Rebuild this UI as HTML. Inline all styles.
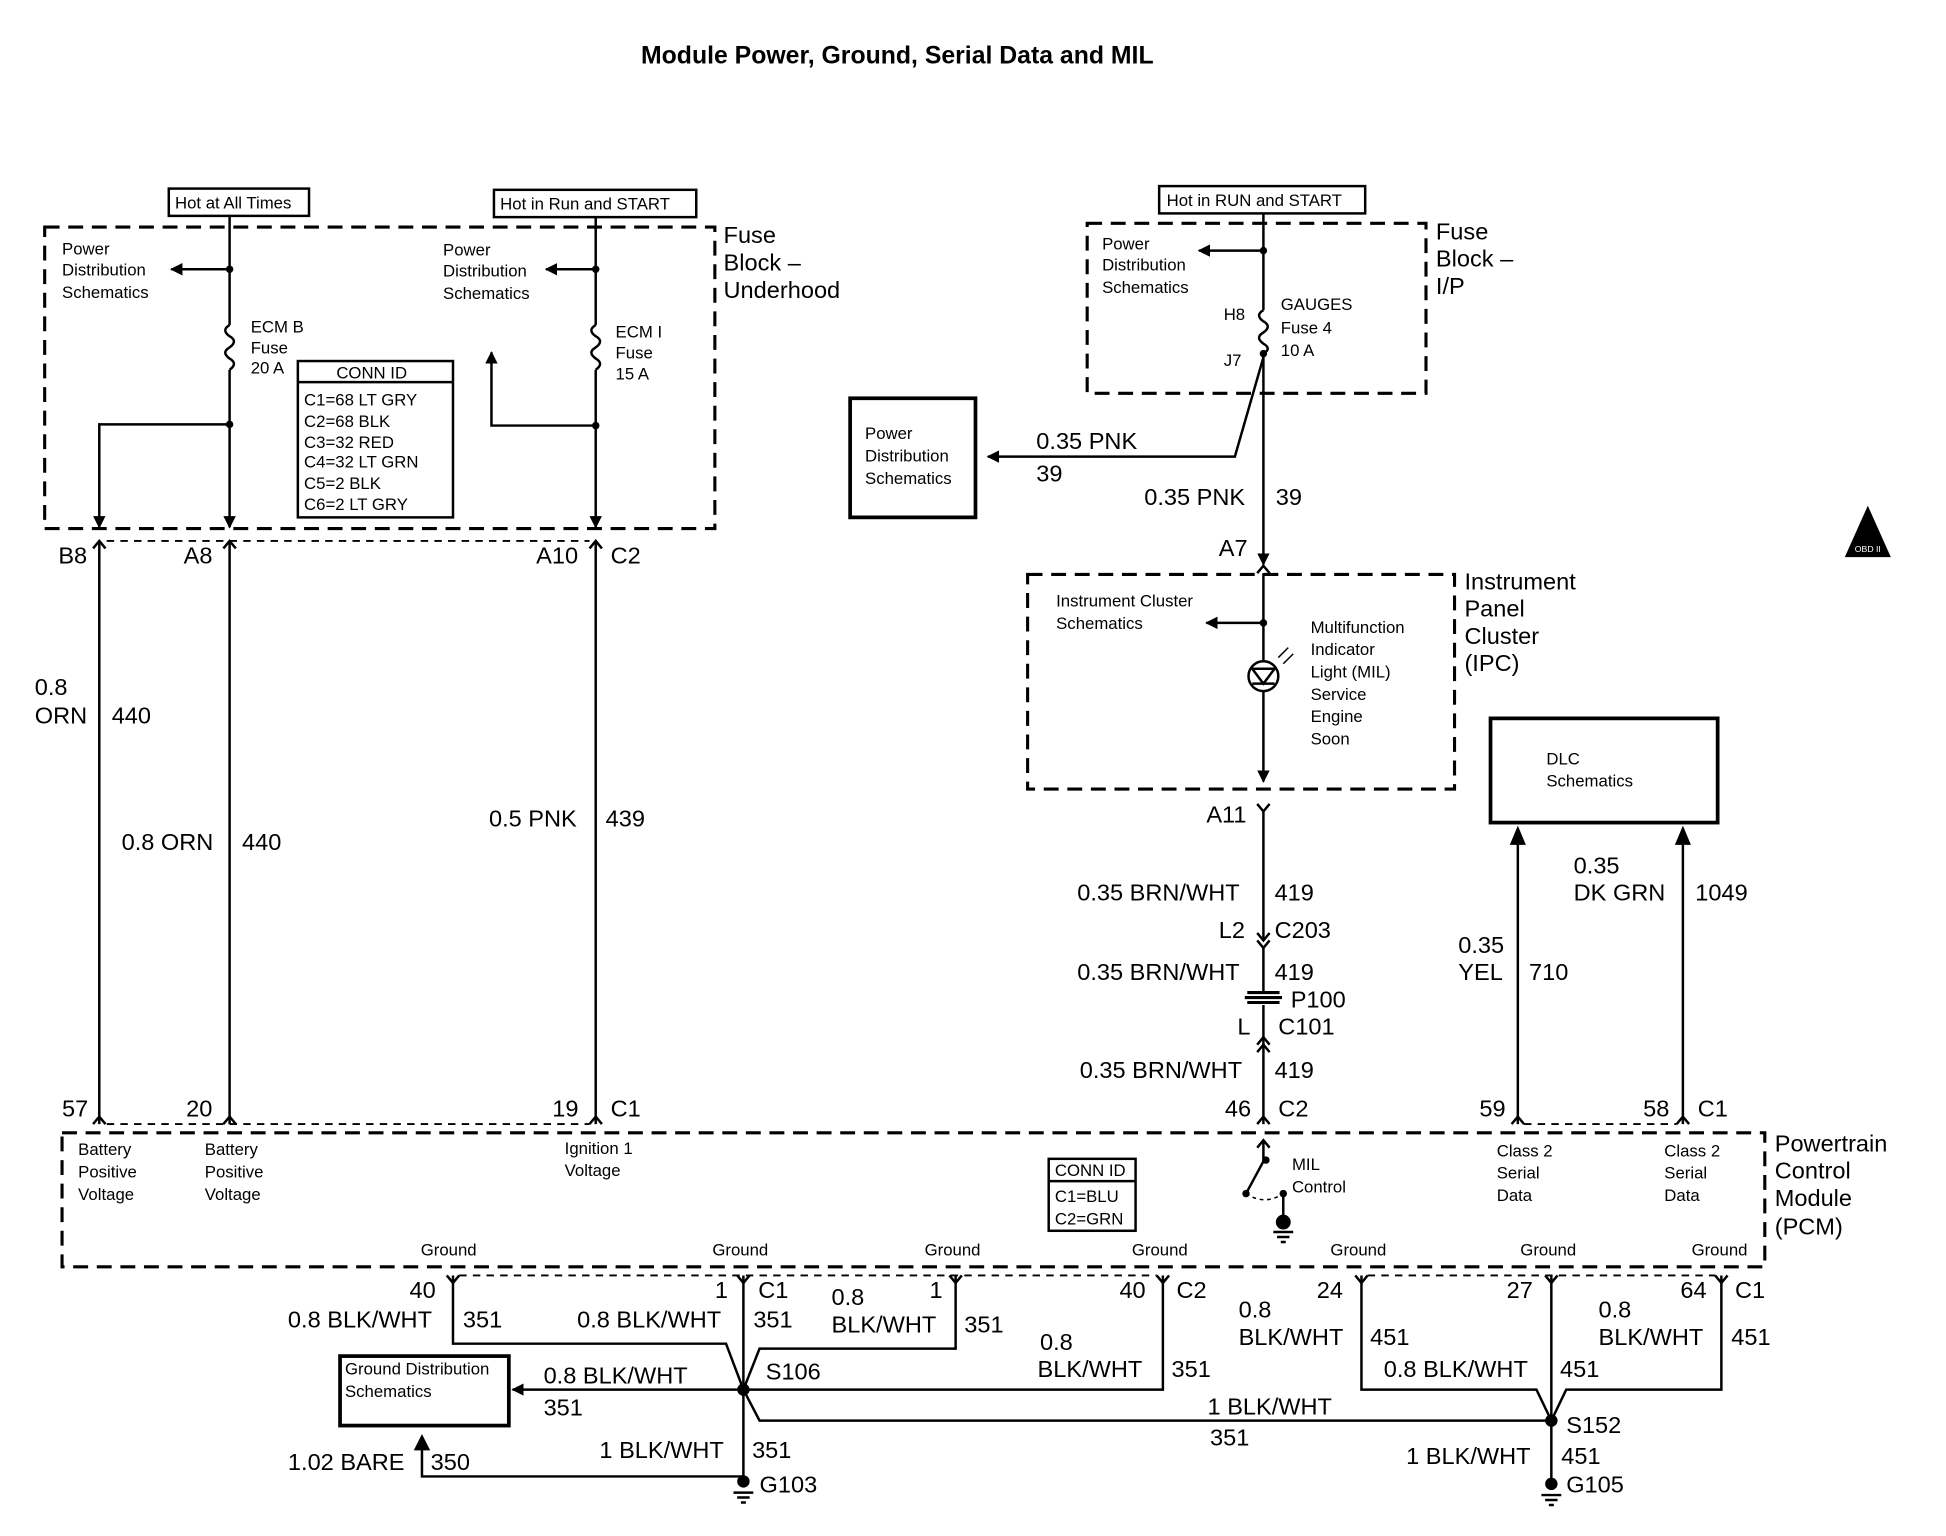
<!DOCTYPE html>
<html><head><meta charset="utf-8"><style>
html,body{margin:0;padding:0;background:#fff;}
svg{display:block;}
text{font-family:"Liberation Sans",Arial,sans-serif;fill:#000;}
.b{font-size:19px;}
.s{font-size:13.5px;}
</style></head><body>
<svg width="1946" height="1536" viewBox="0 0 1568 1238" preserveAspectRatio="none" xmlns="http://www.w3.org/2000/svg">
<defs>
<marker id="ah" markerWidth="10" markerHeight="10" refX="9" refY="5" orient="auto" markerUnits="userSpaceOnUse"><path d="M0,0 L10,5 L0,10 z" fill="#000"/></marker>
</defs>
<g stroke="#000" fill="none" stroke-width="2">
<text x="723" y="51" text-anchor="middle" style="font-size:20px;font-weight:bold" stroke="none">Module Power, Ground, Serial Data and MIL</text>

<!-- left fuse block -->
<rect x="36" y="183" width="540" height="243" stroke-dasharray="12,7" stroke-width="2.5"/>
<rect x="136" y="152" width="113" height="22"/>
<rect x="398" y="153" width="163" height="22"/>
<line x1="185" y1="174" x2="185" y2="262"/>
<path d="M185,262 q-7,4 0,9 q7,4 0,9 q-7,4 0,9 q7,4 0,9"/>
<line x1="185" y1="298" x2="185" y2="425" marker-end="url(#ah)"/>
<line x1="185" y1="217" x2="138" y2="217" marker-end="url(#ah)"/>
<path d="M185,342 H80 V425" marker-end="url(#ah)"/>
<line x1="480" y1="175" x2="480" y2="262"/>
<path d="M480,262 q-7,4 0,9 q7,4 0,9 q-7,4 0,9 q7,4 0,9"/>
<line x1="480" y1="298" x2="480" y2="425" marker-end="url(#ah)"/>
<line x1="480" y1="217" x2="440" y2="217" marker-end="url(#ah)"/>
<path d="M480,343 H396 V284" marker-end="url(#ah)"/>
<rect x="240" y="291" width="125" height="126"/>
<line x1="240" y1="308" x2="365" y2="308"/>
<g fill="#000" stroke="none">
<circle cx="185" cy="217" r="3"/><circle cx="185" cy="342" r="3"/><circle cx="480" cy="217" r="3"/><circle cx="480" cy="343" r="3"/>
</g>
<g stroke="none">
<text x="141" y="168" class="s">Hot at All Times</text>
<text x="403" y="169" class="s">Hot in Run and START</text>
<text x="50" y="205" class="s">Power</text><text x="50" y="222" class="s">Distribution</text><text x="50" y="240" class="s">Schematics</text>
<text x="357" y="206" class="s">Power</text><text x="357" y="223" class="s">Distribution</text><text x="357" y="241" class="s">Schematics</text>
<text x="202" y="268" class="s">ECM B</text><text x="202" y="285" class="s">Fuse</text><text x="202" y="301" class="s">20 A</text>
<text x="496" y="272" class="s">ECM I</text><text x="496" y="289" class="s">Fuse</text><text x="496" y="306" class="s">15 A</text>
<text x="271" y="305" class="s">CONN ID</text>
<text x="245" y="327" class="s">C1=68 LT GRY</text><text x="245" y="344" class="s">C2=68 BLK</text><text x="245" y="361" class="s">C3=32 RED</text>
<text x="245" y="377" class="s">C4=32 LT GRN</text><text x="245" y="394" class="s">C5=2 BLK</text><text x="245" y="411" class="s">C6=2 LT GRY</text>
<text x="583" y="196" class="b">Fuse</text><text x="583" y="218" class="b">Block –</text><text x="583" y="240" class="b">Underhood</text>
<text x="47" y="454" class="b">B8</text><text x="148" y="454" class="b">A8</text><text x="432" y="454" class="b">A10</text><text x="492" y="454" class="b">C2</text>
<text x="28" y="560" class="b">0.8</text><text x="28" y="583" class="b">ORN</text><text x="90" y="583" class="b">440</text>
<text x="98" y="685" class="b">0.8 ORN</text><text x="195" y="685" class="b">440</text>
<text x="394" y="666" class="b">0.5 PNK</text><text x="488" y="666" class="b">439</text>
<text x="50" y="900" class="b">57</text><text x="150" y="900" class="b">20</text><text x="445" y="900" class="b">19</text><text x="492" y="900" class="b">C1</text>
</g>
<line x1="86" y1="436" x2="475" y2="436" stroke-dasharray="6,5" stroke-width="1.5"/>
<path d="M75,442 l5,-6 l5,6 M180,442 l5,-6 l5,6 M475,442 l5,-6 l5,6"/>
<line x1="80" y1="436" x2="80" y2="906"/><line x1="185" y1="436" x2="185" y2="906"/><line x1="480" y1="436" x2="480" y2="906"/>
<path d="M75,906 l5,-6 l5,6 M180,906 l5,-6 l5,6 M475,906 l5,-6 l5,6"/>
<line x1="86" y1="906" x2="475" y2="906" stroke-dasharray="6,5" stroke-width="1.5"/>

<!-- right fuse block -->
<rect x="934" y="150" width="166" height="22"/>
<rect x="876" y="180" width="273" height="137" stroke-dasharray="12,7" stroke-width="2.5"/>
<line x1="1018" y1="172" x2="1018" y2="250"/>
<path d="M1018,250 q-7,4 0,9 q7,4 0,9 q-7,4 0,9 q7,4 0,8"/>
<line x1="1018" y1="285" x2="1018" y2="455" marker-end="url(#ah)"/>
<line x1="1018" y1="202" x2="966" y2="202" marker-end="url(#ah)"/>
<path d="M1018,288 L995,368 H796" marker-end="url(#ah)"/>
<rect x="685" y="321" width="101" height="96" stroke-width="3"/>
<rect x="828" y="463" width="344" height="173" stroke-dasharray="12,7" stroke-width="2.5"/>
<path d="M1013,462 l5,-6 l5,6"/>
<line x1="1018" y1="462" x2="1018" y2="533"/>
<line x1="1018" y1="502" x2="972" y2="502" marker-end="url(#ah)"/>
<circle cx="1018" cy="545" r="12"/>
<path d="M1009,539 h18 l-9,12 z M1009,551 h18"/>
<path d="M1030,530 l8,-8 M1034,535 l8,-8" stroke-width="1.2"/>
<line x1="1018" y1="557" x2="1018" y2="630" marker-end="url(#ah)"/>
<path d="M1013,648 l5,6 l5,-6"/>
<line x1="1018" y1="654" x2="1018" y2="758"/>
<path d="M1013,752 l5,6 l5,-6 M1013,758 l5,6 l5,-6"/>
<line x1="1018" y1="764" x2="1018" y2="800"/>
<path d="M1005,800 h26 M1005,808 h26 M1003,804 h30" stroke-width="2.5"/>
<line x1="1018" y1="810" x2="1018" y2="842"/>
<path d="M1013,842 l5,-6 l5,6 M1013,848 l5,-6 l5,6"/>
<line x1="1018" y1="842" x2="1018" y2="906"/>
<path d="M1013,906 l5,-6 l5,6"/>
<g fill="#000" stroke="none"><circle cx="1018" cy="202" r="3"/><circle cx="1018" cy="285" r="3"/><circle cx="1018" cy="502" r="3"/></g>
<rect x="1201" y="579" width="183" height="84" stroke-width="3"/>
<line x1="1223" y1="668" x2="1223" y2="906"/><line x1="1356" y1="668" x2="1356" y2="906"/>
<path d="M1218,680 l5,-12 l5,12 z M1351,680 l5,-12 l5,12 z" fill="#000"/>
<path d="M1218,906 l5,-6 l5,6 M1351,906 l5,-6 l5,6"/>
<line x1="1228" y1="906" x2="1351" y2="906" stroke-dasharray="6,5" stroke-width="1.5"/>
<path d="M1488,448 L1505,410 L1522,448 z" fill="#000"/>
<g stroke="none">
<text x="940" y="166" class="s">Hot in RUN and START</text>
<text x="888" y="201" class="s">Power</text><text x="888" y="218" class="s">Distribution</text><text x="888" y="236" class="s">Schematics</text>
<text x="986" y="258" class="s">H8</text><text x="986" y="295" class="s">J7</text>
<text x="1032" y="250" class="s">GAUGES</text><text x="1032" y="269" class="s">Fuse 4</text><text x="1032" y="287" class="s">10 A</text>
<text x="1157" y="193" class="b">Fuse</text><text x="1157" y="215" class="b">Block –</text><text x="1157" y="237" class="b">I/P</text>
<text x="697" y="354" class="s">Power</text><text x="697" y="372" class="s">Distribution</text><text x="697" y="390" class="s">Schematics</text>
<text x="835" y="362" class="b">0.35 PNK</text><text x="835" y="388" class="b">39</text>
<text x="922" y="407" class="b">0.35 PNK</text><text x="1028" y="407" class="b">39</text>
<text x="982" y="448" class="b">A7</text>
<text x="1180" y="475" class="b">Instrument</text><text x="1180" y="497" class="b">Panel</text><text x="1180" y="519" class="b">Cluster</text><text x="1180" y="541" class="b">(IPC)</text>
<text x="851" y="489" class="s">Instrument Cluster</text><text x="851" y="507" class="s">Schematics</text>
<text x="1056" y="510" class="s">Multifunction</text><text x="1056" y="528" class="s">Indicator</text><text x="1056" y="546" class="s">Light (MIL)</text><text x="1056" y="564" class="s">Service</text><text x="1056" y="582" class="s">Engine</text><text x="1056" y="600" class="s">Soon</text>
<text x="972" y="663" class="b">A11</text>
<text x="868" y="726" class="b">0.35 BRN/WHT</text><text x="1027" y="726" class="b">419</text>
<text x="982" y="756" class="b">L2</text><text x="1027" y="756" class="b">C203</text>
<text x="868" y="790" class="b">0.35 BRN/WHT</text><text x="1027" y="790" class="b">419</text>
<text x="1040" y="812" class="b">P100</text>
<text x="997" y="834" class="b">L</text><text x="1030" y="834" class="b">C101</text>
<text x="870" y="869" class="b">0.35 BRN/WHT</text><text x="1027" y="869" class="b">419</text>
<text x="987" y="900" class="b">46</text><text x="1030" y="900" class="b">C2</text>
<text x="1246" y="616" class="s">DLC</text><text x="1246" y="634" class="s">Schematics</text>
<text x="1175" y="768" class="b">0.35</text><text x="1175" y="790" class="b">YEL</text><text x="1232" y="790" class="b">710</text>
<text x="1268" y="704" class="b">0.35</text><text x="1268" y="726" class="b">DK GRN</text><text x="1366" y="726" class="b">1049</text>
<text x="1192" y="900" class="b">59</text><text x="1324" y="900" class="b">58</text><text x="1368" y="900" class="b">C1</text>
<text x="1505" y="445" text-anchor="middle" style="font-size:7px;fill:#fff">OBD II</text>
</g>

<!-- PCM -->
<rect x="50" y="913" width="1372" height="108" stroke-dasharray="12,7" stroke-width="2.5"/>
<rect x="845" y="934" width="70" height="58"/>
<line x1="845" y1="952" x2="915" y2="952"/>
<path d="M1013,925 l5,-6 l5,6"/>
<path d="M1018,919 V936 L1004,962"/>
<path d="M1004,962 q15,10 30,0" stroke-dasharray="3,3" stroke-width="1.2"/>
<line x1="1034" y1="962" x2="1034" y2="985"/>
<path d="M1026,993 h16 M1029,997 h10 M1032,1001 h4"/>
<g fill="#000" stroke="none"><circle cx="1020" cy="935" r="3"/><circle cx="1004" cy="962" r="3"/><circle cx="1034" cy="962" r="3"/><circle cx="1034" cy="985" r="6"/></g>
<g stroke="none">
<text x="1430" y="928" class="b">Powertrain</text><text x="1430" y="950" class="b">Control</text><text x="1430" y="972" class="b">Module</text><text x="1430" y="995" class="b">(PCM)</text>
<text x="63" y="931" class="s">Battery</text><text x="63" y="949" class="s">Positive</text><text x="63" y="967" class="s">Voltage</text>
<text x="165" y="931" class="s">Battery</text><text x="165" y="949" class="s">Positive</text><text x="165" y="967" class="s">Voltage</text>
<text x="455" y="930" class="s">Ignition 1</text><text x="455" y="948" class="s">Voltage</text>
<text x="850" y="948" class="s">CONN ID</text><text x="850" y="969" class="s">C1=BLU</text><text x="850" y="987" class="s">C2=GRN</text>
<text x="1041" y="943" class="s">MIL</text><text x="1041" y="961" class="s">Control</text>
<text x="1206" y="932" class="s">Class 2</text><text x="1206" y="950" class="s">Serial</text><text x="1206" y="968" class="s">Data</text>
<text x="1341" y="932" class="s">Class 2</text><text x="1341" y="950" class="s">Serial</text><text x="1341" y="968" class="s">Data</text>
<text x="339" y="1012" class="s">Ground</text><text x="574" y="1012" class="s">Ground</text><text x="745" y="1012" class="s">Ground</text><text x="912" y="1012" class="s">Ground</text>
<text x="1072" y="1012" class="s">Ground</text><text x="1225" y="1012" class="s">Ground</text><text x="1363" y="1012" class="s">Ground</text>
<text x="330" y="1046" class="b">40</text><text x="576" y="1046" class="b">1</text><text x="611" y="1046" class="b">C1</text>
<text x="749" y="1046" class="b">1</text><text x="902" y="1046" class="b">40</text><text x="948" y="1046" class="b">C2</text>
<text x="1061" y="1046" class="b">24</text><text x="1214" y="1046" class="b">27</text><text x="1354" y="1046" class="b">64</text><text x="1398" y="1046" class="b">C1</text>
<text x="232" y="1070" class="b">0.8 BLK/WHT</text><text x="373" y="1070" class="b">351</text>
<text x="465" y="1070" class="b">0.8 BLK/WHT</text><text x="607" y="1070" class="b">351</text>
<text x="670" y="1052" class="b">0.8</text><text x="670" y="1074" class="b">BLK/WHT</text><text x="777" y="1074" class="b">351</text>
<text x="838" y="1088" class="b">0.8</text><text x="836" y="1110" class="b">BLK/WHT</text><text x="944" y="1110" class="b">351</text>
<text x="998" y="1062" class="b">0.8</text><text x="998" y="1084" class="b">BLK/WHT</text><text x="1104" y="1084" class="b">451</text>
<text x="1115" y="1110" class="b">0.8 BLK/WHT</text><text x="1257" y="1110" class="b">451</text>
<text x="1288" y="1062" class="b">0.8</text><text x="1288" y="1084" class="b">BLK/WHT</text><text x="1395" y="1084" class="b">451</text>
<text x="973" y="1140" class="b">1 BLK/WHT</text><text x="975" y="1165" class="b">351</text>
<text x="438" y="1115" class="b">0.8 BLK/WHT</text><text x="438" y="1141" class="b">351</text>
<text x="617" y="1112" class="b">S106</text>
<text x="232" y="1185" class="b">1.02 BARE</text><text x="347" y="1185" class="b">350</text>
<text x="483" y="1175" class="b">1 BLK/WHT</text><text x="606" y="1175" class="b">351</text>
<text x="612" y="1203" class="b">G103</text>
<text x="1262" y="1155" class="b">S152</text><text x="1133" y="1180" class="b">1 BLK/WHT</text><text x="1258" y="1180" class="b">451</text>
<text x="1262" y="1203" class="b">G105</text>
<text x="278" y="1108" class="s">Ground Distribution</text><text x="278" y="1126" class="s">Schematics</text>
</g>
<path d="M360,1028 l5,6 l5,-6 M594,1028 l5,6 l5,-6 M765,1028 l5,6 l5,-6 M932,1028 l5,6 l5,-6 M1092,1028 l5,6 l5,-6 M1245,1028 l5,6 l5,-6 M1382,1028 l5,6 l5,-6"/>
<line x1="370" y1="1028" x2="932" y2="1028" stroke-dasharray="6,5" stroke-width="1.5"/>
<line x1="1102" y1="1028" x2="1382" y2="1028" stroke-dasharray="6,5" stroke-width="1.5"/>
<path d="M365,1028 V1083 H585 L599,1120"/>
<path d="M599,1028 V1190"/>
<path d="M770,1028 V1087 H612 L599,1120"/>
<path d="M937,1028 V1120 H612 L599,1120"/>
<path d="M599,1120 L612,1145 H1250"/>
<path d="M1097,1028 V1120 H1238 L1250,1145"/>
<path d="M1250,1028 V1195"/>
<path d="M1387,1028 V1120 H1262 L1250,1145"/>
<line x1="599" y1="1120" x2="413" y2="1120" marker-end="url(#ah)"/>
<rect x="274" y="1093" width="136" height="56" stroke-width="3"/>
<path d="M340,1168 V1190 H599"/>
<path d="M335,1168 h10 l-5,-10 z" fill="#000"/>
<g fill="#000" stroke="none"><circle cx="599" cy="1120" r="5"/><circle cx="1250" cy="1145" r="5"/><circle cx="599" cy="1194" r="5"/><circle cx="1250" cy="1196" r="5"/></g>
<path d="M591,1203 h16 M594,1207 h10 M597,1211 h4 M1242,1205 h16 M1245,1209 h10 M1248,1213 h4"/>
</g>
</svg>
</body></html>
